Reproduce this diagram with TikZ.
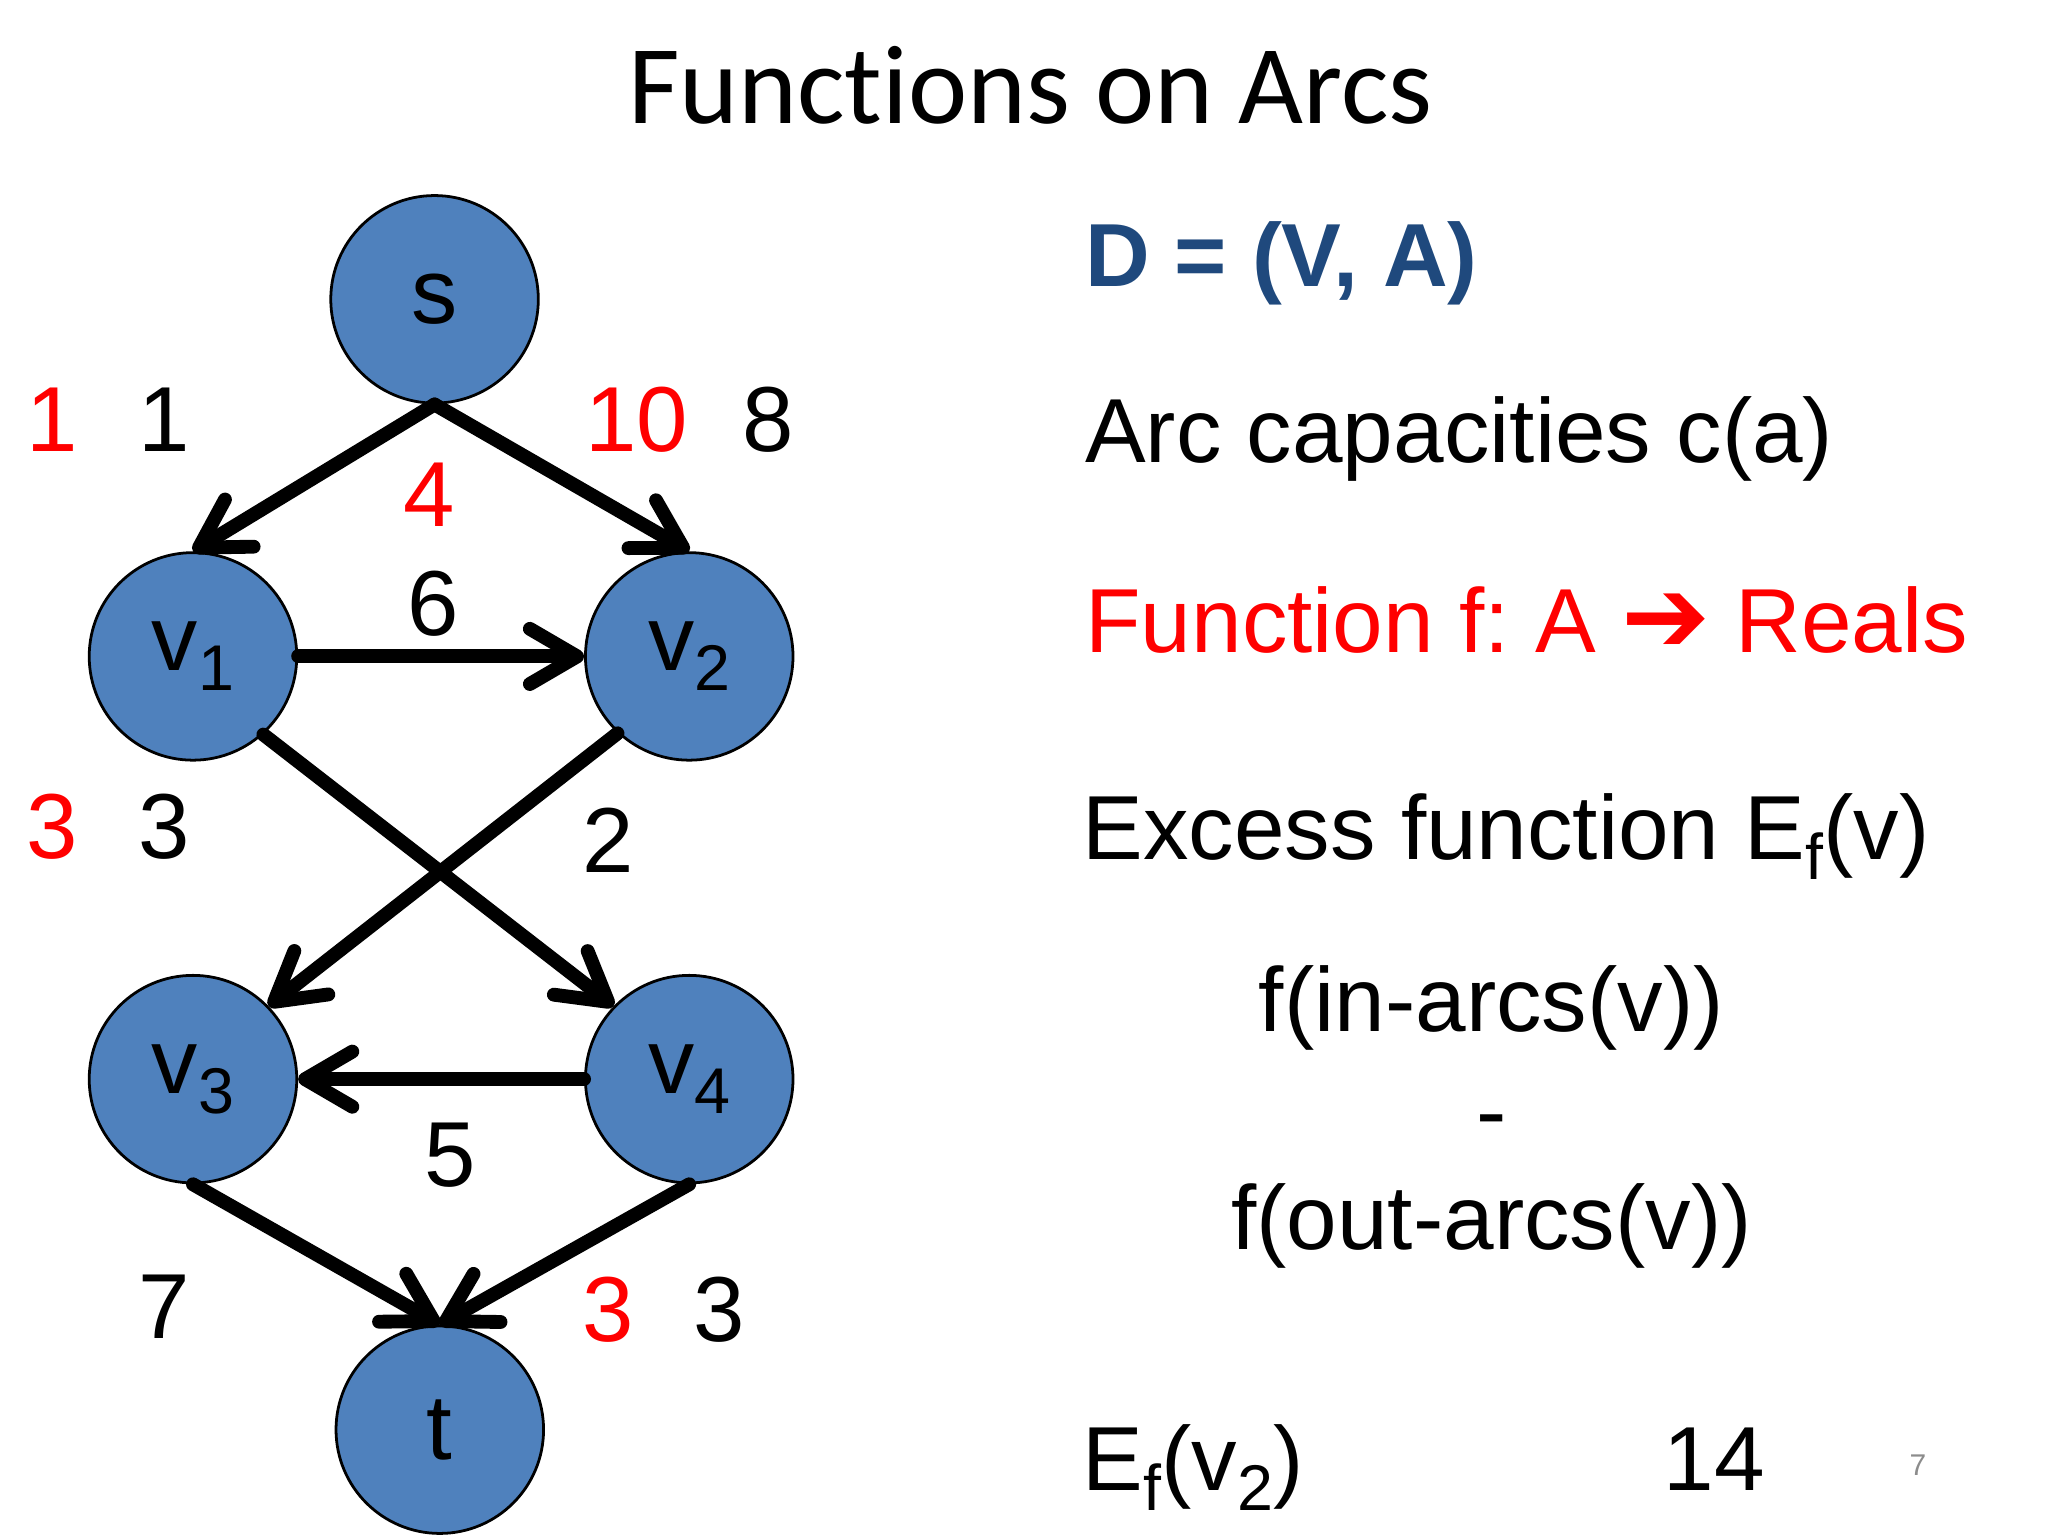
\documentclass[tikz,border=0pt]{standalone}
\usepackage{fontspec}
\setmainfont{Liberation Sans}
\newfontfamily\titlefont{Carlito}[Ligatures=NoCommon]
\newfontfamily\dejavu{DejaVu Sans}
\usetikzlibrary{arrows.meta}
\definecolor{nodeblue}{RGB}{79,129,189}
\definecolor{dblue}{RGB}{31,73,125}
\definecolor{pred}{RGB}{255,0,0}
\definecolor{pgray}{RGB}{140,140,140}
\newcommand\lowsub[2][14]{\raisebox{-0.22em}{\fontsize{#1}{#1}\selectfont #2}}
\frenchspacing
\begin{document}
\begin{tikzpicture}[x=0.01cm,y=-0.01cm,
  vert/.style={circle,draw=black,line width=0.6pt,fill=nodeblue,minimum size=1.58cm,inner sep=0pt,font=\fontsize{20}{22}\selectfont},
  arc/.style={line width=3pt,line cap=round,-{Straight Barb[length=0.36cm,width=0.42cm,line cap=round,line join=round]}},
  num/.style={font=\fontsize{20}{22}\selectfont,inner sep=0pt},
  rnum/.style={num,text=pred},
  txt/.style={font=\fontsize{19.7}{24}\selectfont,anchor=base west,inner sep=0pt},
  ctxt/.style={font=\fontsize{19.7}{24}\selectfont,anchor=base,inner sep=0pt},
]
\useasboundingbox (0,0) rectangle (1560,1170);
% title
\node[font=\titlefont\fontsize{24.3}{28}\selectfont,anchor=base,inner sep=0pt] (title) at (785,94) {Functions on Arcs};
% vertices
\node[vert] (s)  at (331,228) {s};
\node[vert] (v1) at (147,500) {v\lowsub{1}};
\node[vert] (v2) at (525,500) {v\lowsub{2}};
\node[vert] (v3) at (147,822) {v\lowsub{3}};
\node[vert] (v4) at (525,822) {v\lowsub{4}};
\node[vert] (t)  at (335,1089) {t};
% arcs
\draw[arc] (s.south) -- (v1.north);
\draw[arc] (s.south) -- (v2.north);
\draw[arc] (v1.east) -- (v2.west);
\draw[arc] (v1.-48) -- (v4.136);
\draw[arc] (v2.-133) -- (v3.44);
\draw[arc] (v4.west) -- (v3.east);
\draw[arc] (v3.south) -- (t.north);
\draw[arc] (v4.south) -- (t.north);
% labels
\node[rnum] (f1) at (40,320) {1};
\node[num]  (c1) at (125,320) {1};
\node[rnum] (f2) at (485,320) {10};
\node[num]  (c2) at (585,320) {8};
\node[rnum] (f3) at (327,377) {4};
\node[num]  (c3) at (330,460) {6};
\node[rnum] (f4) at (40,630) {3};
\node[num]  (c4) at (125,630) {3};
\node[num]  (c5) at (463,640) {2};
\node[num]  (c6) at (343,880) {5};
\node[num]  (c7) at (125,995) {7};
\node[rnum] (f8) at (463,998) {3};
\node[num]  (c8) at (548,998) {3};
% right text
\node[txt,text=dblue,font=\fontsize{19.4}{24}\selectfont\bfseries] (D) at (826,218) {D = (V, A)};
\node[txt] (cap) at (826,352) {Arc capacities c(a)};
\node[txt,text=pred] (fun) at (826,497) {Function f: A {\dejavu\fontsize{23}{23}\selectfont ➔} Reals};
\node[txt] (exc) at (824,655) {Excess function E\lowsub{f}(v)};
\node[ctxt] (in) at (1136,786) {f(in-arcs(v))};
\node[ctxt] (minus) at (1136,870) {-};
\node[ctxt] (out) at (1136,952) {f(out-arcs(v))};
\node[txt] (ev) at (824,1135) {E\lowsub{f}(v\lowsub{2})};
\node[ctxt] (val) at (1306,1135) {14};
\node[font=\fontsize{6.5}{8}\selectfont,text=pgray,anchor=base,inner sep=0pt] (pg) at (1461,1124) {7};
\end{tikzpicture}
\end{document}
